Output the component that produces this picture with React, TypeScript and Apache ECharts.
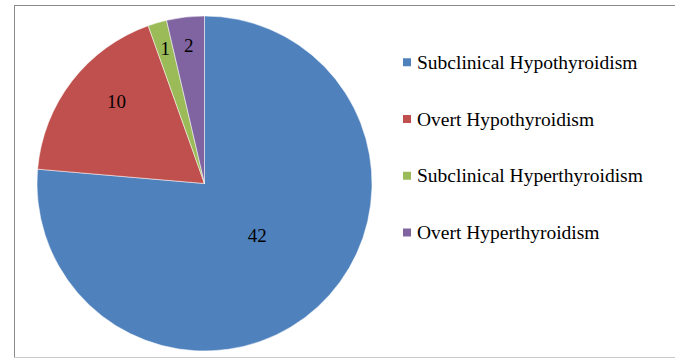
import React, { useEffect, useRef } from "react";
import * as echarts from "echarts";

const categories = [
  "Subclinical Hypothyroidism",
  "Overt Hypothyroidism",
  "Subclinical Hyperthyroidism",
  "Overt Hyperthyroidism",
];
const values = [42, 10, 1, 2];
const colors = ["#4F81BD", "#C0504D", "#9BBB59", "#8064A2"];
// which transparent label ring each value label sits on (0 = inner, 1 = middle, 2 = outer)
const labelRing = [0, 1, 2, 2];
const labelNudge = [[1, -4], [7, -9], [0, -2], [0, 0]];

const FONT = "Liberation Serif";

export default function App() {
  const ref = useRef<HTMLDivElement>(null);
  useEffect(() => {
    if (!ref.current) return;
    const chart = echarts.init(ref.current, undefined, { renderer: "svg" });
    const center = [204.5, 183.5];
    const R = 167.5;
    const ringRadii = [147, 234, 272];

    const mainData = categories.map((name, i) => ({
      name,
      value: values[i],
      itemStyle: { color: colors[i] },
    }));

    const labelSeries = ringRadii.map((rad, ring) => ({
      type: "pie",
      center,
      radius: [0, rad],
      startAngle: 90,
      silent: true,
      emphasis: { disabled: true },
      itemStyle: { color: "transparent", borderWidth: 0 },
      labelLine: { show: false },
      label: {
        position: "inside",
        formatter: "{c}",
        color: "#000",
        fontFamily: FONT,
        fontSize: 19,
      },
      data: categories.map((name, i) => ({
        name,
        value: values[i],
        label: { show: labelRing[i] === ring, offset: labelNudge[i] },
      })),
      z: 5,
    }));

    chart.setOption({
      animation: false,
      backgroundColor: "#fff",
      textStyle: { fontFamily: FONT },
      graphic: [
        { type: "line", shape: { x1: 14.5, y1: 5, x2: 14.5, y2: 358 }, style: { stroke: "#8a8a8a", lineWidth: 1 } },
        { type: "line", shape: { x1: 14, y1: 5.5, x2: 675, y2: 5.5 }, style: { stroke: "#8a8a8a", lineWidth: 1 } },
        { type: "line", shape: { x1: 14, y1: 357.5, x2: 675, y2: 357.5 }, style: { stroke: "#c8c8c8", lineWidth: 1 } },
      ],
      legend: {
        orient: "vertical",
        left: 401,
        top: 52.3,
        padding: 0,
        icon: "rect",
        itemWidth: 10,
        itemHeight: 10,
        itemGap: 36.7,
        selectedMode: false,
        data: categories.map((name, i) => ({ name, itemStyle: { color: colors[i] } })),
        textStyle: {
          fontFamily: FONT,
          fontSize: 19.5,
          lineHeight: 20,
          color: "#000",
        },
      },
      series: [
        {
          type: "pie",
          center,
          radius: [0, R],
          startAngle: 90,
          silent: true,
          emphasis: { disabled: true },
          label: { show: false },
          labelLine: { show: false },
          itemStyle: { borderColor: "#fff", borderWidth: 0.5 },
          data: mainData,
          z: 2,
        },
        ...labelSeries,
      ],
    });
    return () => chart.dispose();
  }, []);
  return (
    <div
      ref={ref}
      style={{ position: "absolute", left: 0, top: 0, width: 675, height: 360 }}
    />
  );
}
